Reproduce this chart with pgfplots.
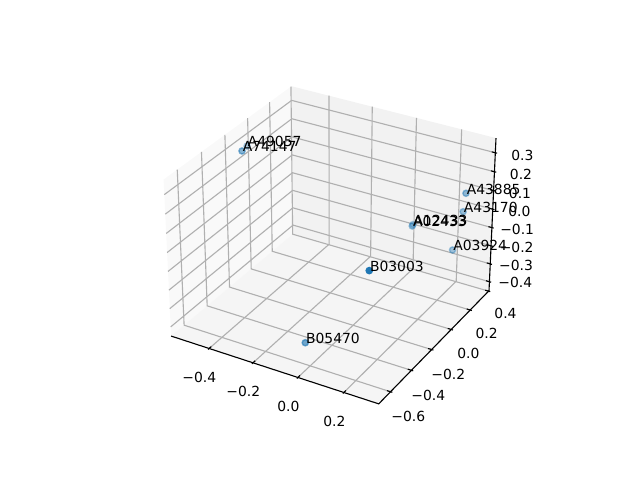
\documentclass[border=0pt]{standalone}
\usepackage{fontspec}
\usepackage{pgfplots}
\pgfplotsset{compat=1.18}
\setmainfont{DejaVu Sans}
\definecolor{mplblue}{HTML}{1F77B4}
\definecolor{gridc}{HTML}{B0B0B0}
\definecolor{panex}{gray}{0.975}
\definecolor{paney}{gray}{0.95}
\definecolor{panez}{gray}{0.9625}
\pgfplotsset{
  /pgfplots/table/proj/.style={row sep=\\,
    x expr={SX(\thisrow{x},\thisrow{y},\thisrow{z})},
    y expr={SY(\thisrow{x},\thisrow{y},\thisrow{z})}},
  gridline/.style={draw=gridc,line width=0.8bp,no marks,forget plot},
  axline/.style={draw=black,line width=0.8bp,no marks,forget plot},
  pt/.style={only marks,mark=*,mark size=2.236bp,line width=1bp,forget plot,
    mark options={fill=mplblue,draw=mplblue,fill opacity=#1,draw opacity=#1}},
}
\tikzset{ticklab/.style={font=\fontsize{10bp}{12bp}\selectfont,inner sep=0pt,anchor=center,text=black}}
\begin{document}
\begin{tikzpicture}
\path[use as bounding box] (0,0) rectangle (6.4in,4.8in);
\begin{axis}[
  at={(0,0)},anchor=south west,
  width=6.4in,height=4.8in,scale only axis,
  xmin=0,xmax=640,ymin=0,ymax=480,
  hide axis,clip=false,
  declare function={
    NX(\a)=(\a+0.114)*1.28564;
    NY(\b)=(\b+0.1525)*1.06771;
    NZ(\c)=(\c+0.037)*1.07969;
    DD(\a,\b,\c)=10-(0.43301*NX(\a)-0.75*NY(\b)+0.5*NZ(\c));
    SX(\a,\b,\c)=333+1997.8*(0.86603*NX(\a)+0.5*NY(\b))/DD(\a,\b,\c);
    SY(\a,\b,\c)=242.6+1997.8*(-0.25*NX(\a)+0.43301*NY(\b)+0.86603*NZ(\c))/DD(\a,\b,\c);
  },
]
% panes
\addplot[fill=panex,draw=none,forget plot] table[proj]{x y z\\ -0.577 -0.71 -0.4505\\ -0.577 0.405 -0.4505\\ -0.577 0.405 0.3765\\ -0.577 -0.71 0.3765\\};
\addplot[fill=paney,draw=none,forget plot] table[proj]{x y z\\ -0.577 0.405 -0.4505\\ 0.349 0.405 -0.4505\\ 0.349 0.405 0.3765\\ -0.577 0.405 0.3765\\};
\addplot[fill=panez,draw=none,forget plot] table[proj]{x y z\\ -0.577 -0.71 -0.4505\\ 0.349 -0.71 -0.4505\\ 0.349 0.405 -0.4505\\ -0.577 0.405 -0.4505\\};
% grid
\pgfplotsinvokeforeach{-0.4,-0.2,0,0.2}{
  \addplot[gridline] table[proj]{x y z\\ #1 -0.71 -0.4505\\ #1 0.405 -0.4505\\ #1 0.405 0.3765\\};
  \addplot[axline] table[proj]{x y z\\ #1 -0.7193 -0.4505\\ #1 -0.6914 -0.4505\\};
}
\pgfplotsinvokeforeach{-0.6,-0.4,-0.2,0,0.2,0.4}{
  \addplot[gridline] table[proj]{x y z\\ 0.349 #1 -0.4505\\ -0.577 #1 -0.4505\\ -0.577 #1 0.3765\\};
  \addplot[axline] table[proj]{x y z\\ 0.3567 #1 -0.4505\\ 0.3336 #1 -0.4505\\};
}
\pgfplotsinvokeforeach{-0.4,-0.3,-0.2,-0.1,0,0.1,0.2,0.3}{
  \addplot[gridline] table[proj]{x y z\\ -0.577 -0.71 #1\\ -0.577 0.405 #1\\ 0.349 0.405 #1\\};
  \addplot[axline] table[proj]{x y z\\ 0.3567 0.405 #1\\ 0.3336 0.405 #1\\};
}
% axis lines
\addplot[axline] table[proj]{x y z\\ -0.577 -0.71 -0.4505\\ 0.349 -0.71 -0.4505\\ 0.349 0.405 -0.4505\\ 0.349 0.405 0.3765\\};
% data, far to near
\addplot[pt=0.30] table[proj]{x y z\\ -0.5476 -0.0663 0.2677\\};
\addplot[pt=0.32] table[proj]{x y z\\ 0.0498 0.2782 -0.1226\\};
\addplot[pt=0.42] table[proj]{x y z\\ 0.2407 0.3524 -0.0244\\};
\addplot[pt=0.40] table[proj]{x y z\\ 0.2422 0.2484 -0.1815\\};
\addplot[pt=0.48] table[proj]{x y z\\ 0.2617 0.3233 0.0955\\};
\addplot[pt=0.40] table[proj]{x y z\\ 0.1109 0.1290 -0.0373\\};
\addplot[pt=0.52] table[proj]{x y z\\ -0.4786 -0.2393 0.3400\\};
\addplot[pt=0.62] table[proj]{x y z\\ -0.0767 -0.4880 -0.4174\\};
\addplot[pt=1.00] table[proj]{x y z\\ 0.2850 -0.6704 0.1920\\};
% point labels
\addplot[only marks,mark=none,forget plot,nodes near coords,point meta=explicit symbolic,
  nodes near coords style={anchor=base west,inner sep=0pt,text=black,xshift=0.005in,yshift=-0.008in,font=\fontsize{10bp}{12bp}\selectfont}]
  table[proj,meta=label]{x y z label\\
  -0.5476 -0.0663 0.2677 A49057\\
  0.0498 0.2782 -0.1226 A12433\\
  0.2407 0.3524 -0.0244 A43170\\
  0.2422 0.2484 -0.1815 A03924\\
  0.2617 0.3233 0.0955 A43885\\
  0.1109 0.1290 -0.0373 A02433\\
  -0.4786 -0.2393 0.3400 A74147\\
  -0.0767 -0.4880 -0.4174 B05470\\
  0.2850 -0.6704 0.1920 B03003\\
};
% tick labels
\node[ticklab] at (axis cs:199.3,102.7) {−0.4};
\node[ticklab] at (axis cs:243.3,89) {−0.2};
\node[ticklab] at (axis cs:288.3,74) {0.0};
\node[ticklab] at (axis cs:334.3,58.3) {0.2};
\node[ticklab] at (axis cs:408.3,63.3) {−0.6};
\node[ticklab] at (axis cs:428.3,85) {−0.4};
\node[ticklab] at (axis cs:448.3,106) {−0.2};
\node[ticklab] at (axis cs:468.3,126.7) {0.0};
\node[ticklab] at (axis cs:486.7,146.7) {0.2};
\node[ticklab] at (axis cs:505.5,166.5) {0.4};
\node[ticklab] at (axis cs:522.3,324.7) {0.3};
\node[ticklab] at (axis cs:521,305.7) {0.2};
\node[ticklab] at (axis cs:520,286.7) {0.1};
\node[ticklab] at (axis cs:519.3,268.7) {0.0};
\node[ticklab] at (axis cs:517.2,251) {−0.1};
\node[ticklab] at (axis cs:516.7,232.7) {−0.2};
\node[ticklab] at (axis cs:516,215) {−0.3};
\node[ticklab] at (axis cs:515.3,197.3) {−0.4};
\end{axis}
\end{tikzpicture}
\end{document}
